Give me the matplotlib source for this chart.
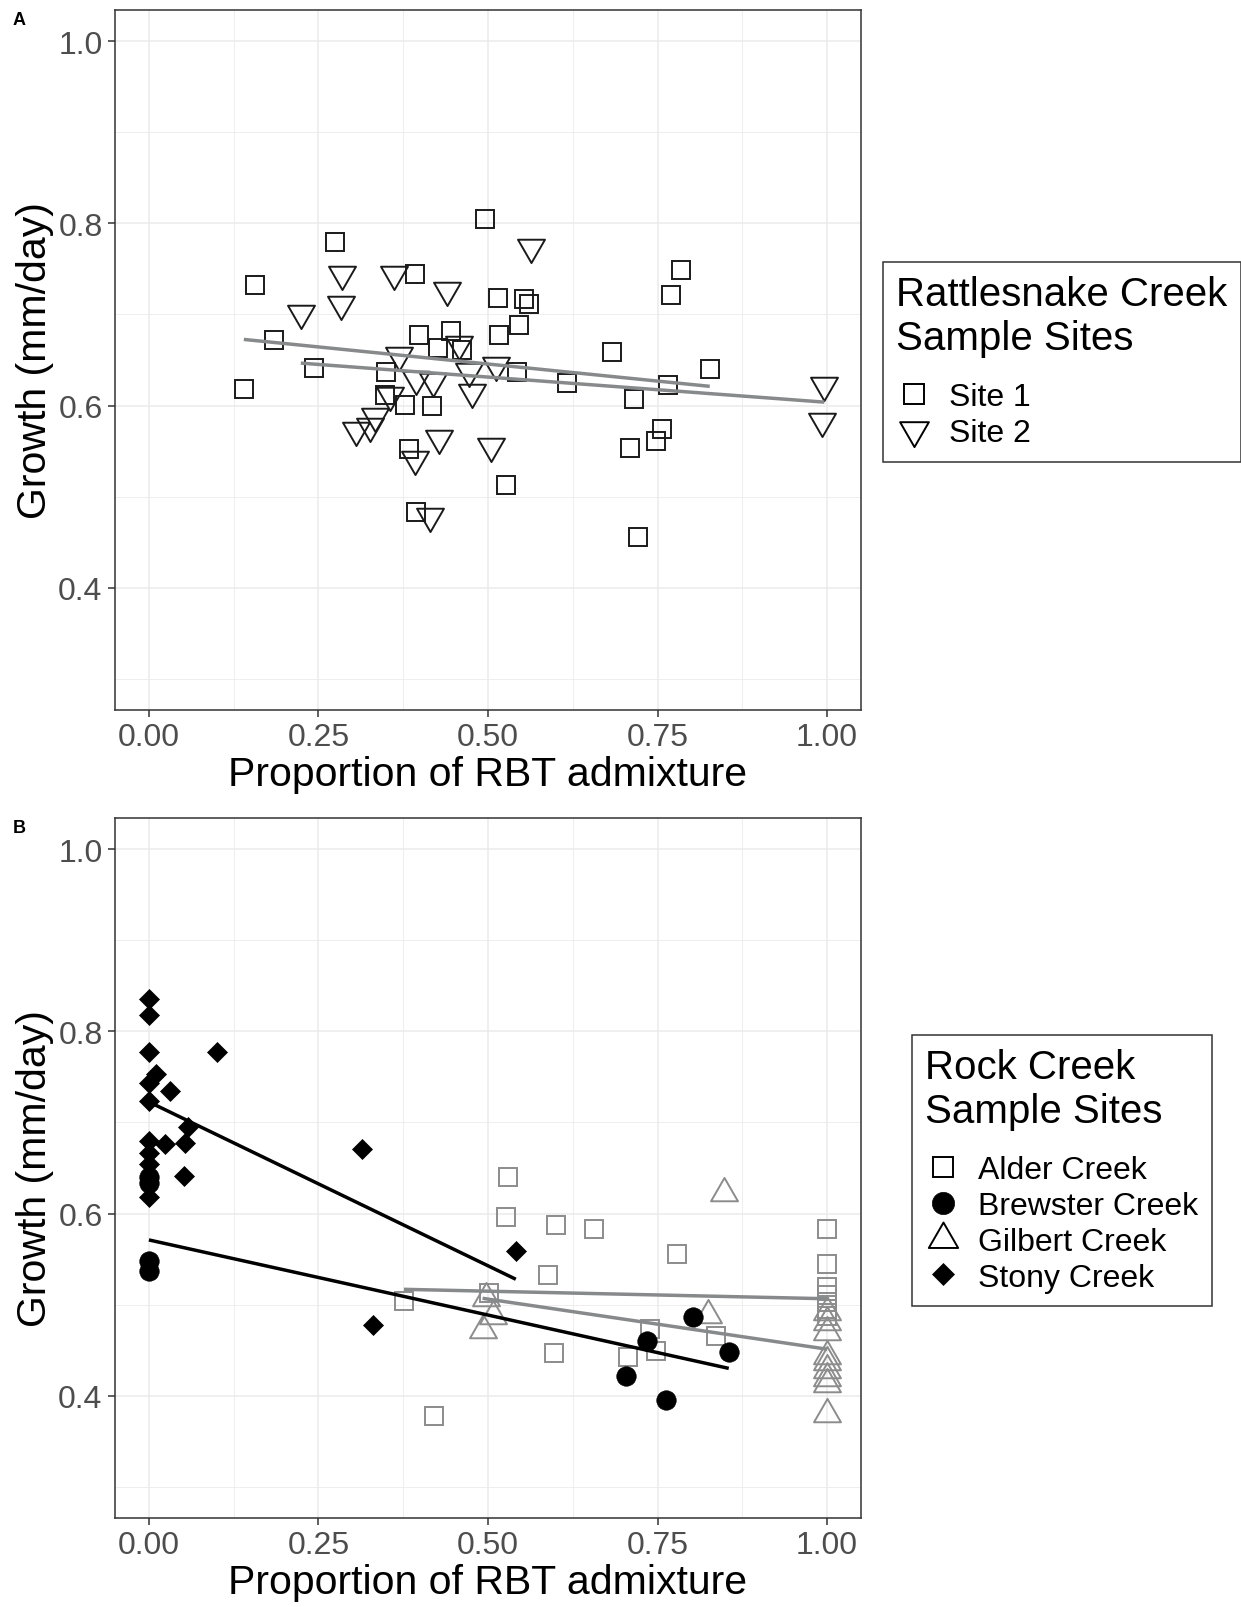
import numpy as np
import matplotlib
matplotlib.use('Agg')
import matplotlib.pyplot as plt
from matplotlib.lines import Line2D
from matplotlib.path import Path
from matplotlib.ticker import MultipleLocator

plt.rcParams['font.family'] = ['Liberation Sans', 'DejaVu Sans']

# ---- Rattlesnake Creek (panel A) ----
site1_x = [0.495, 0.275, 0.156, 0.393, 0.515, 0.553, 0.561, 0.185, 0.244, 0.140,
           0.398, 0.446, 0.426, 0.461, 0.516, 0.545, 0.349, 0.348, 0.377, 0.417,
           0.543, 0.384, 0.527, 0.394, 0.617, 0.683, 0.784, 0.770, 0.827, 0.766,
           0.715, 0.757, 0.748, 0.709, 0.721]
site1_y = [0.805, 0.780, 0.732, 0.744, 0.718, 0.717, 0.712, 0.6725, 0.641, 0.618,
           0.677, 0.682, 0.663, 0.661, 0.678, 0.688, 0.637, 0.612, 0.601, 0.599,
           0.637, 0.552, 0.513, 0.483, 0.625, 0.659, 0.749, 0.721, 0.640, 0.623,
           0.607, 0.574, 0.561, 0.553, 0.456]
site2_x = [0.224, 0.285, 0.283, 0.361, 0.439, 0.564, 0.369, 0.394, 0.419, 0.355,
           0.457, 0.472, 0.476, 0.512, 0.333, 0.326, 0.305, 0.428, 0.505, 0.393,
           0.414, 0.996, 0.993]
site2_y = [0.702, 0.744, 0.711, 0.744, 0.727, 0.774, 0.655, 0.629, 0.627, 0.612,
           0.668, 0.638, 0.615, 0.644, 0.588, 0.577, 0.573, 0.564, 0.556, 0.541,
           0.479, 0.622, 0.583]
# linear fits: intercept, slope
site1_fit = [0.6831, -0.075]
site2_fit = [0.659, -0.0555]

# ---- Rock Creek (panel B) ----
alder_x = [0.529, 0.527, 0.601, 0.656, 0.778, 0.589, 0.376, 0.502, 0.597, 0.421,
           0.739, 0.706, 0.748, 0.836, 1.0, 1.0, 1.0, 1.0, 1.0, 1.0, 1.0]
alder_y = [0.640, 0.596, 0.5875, 0.583, 0.556, 0.533, 0.504, 0.513, 0.4465, 0.378,
           0.473, 0.442, 0.449, 0.466, 0.583, 0.545, 0.519, 0.511, 0.503, 0.495, 0.487]
brewster_x = [0.0, 0.0, 0.0, 0.0, 0.704, 0.734, 0.762, 0.803, 0.855]
brewster_y = [0.640, 0.633, 0.548, 0.537, 0.4215, 0.460, 0.395, 0.486, 0.448]
gilbert_x = [0.848, 0.824, 0.4975, 0.508, 0.492, 1.0, 1.0, 1.0, 1.0, 1.0, 1.0, 1.0, 1.0, 1.0]
gilbert_y = [0.623, 0.489, 0.507, 0.488, 0.472, 0.492, 0.481, 0.470, 0.444, 0.437,
             0.428, 0.419, 0.413, 0.380]
stony_x = [0.0, 0.0, 0.0, 0.101, 0.011, 0.0, 0.031, 0.0, 0.057, 0.053,
           0.0, 0.024, 0.0, 0.0, 0.052, 0.0, 0.314, 0.541, 0.330]
stony_y = [0.8355, 0.818, 0.777, 0.777, 0.753, 0.743, 0.735, 0.724, 0.695, 0.678,
           0.680, 0.676, 0.667, 0.654, 0.641, 0.618, 0.671, 0.559, 0.478]
alder_fit = [0.523, -0.0166]
brewster_fit = [0.571, -0.165]
gilbert_fit = [0.561, -0.110]
stony_fit = [0.7226, -0.360]

xticks = [0.0, 0.25, 0.5, 0.75, 1.0]
xticklabels = ['0.00', '0.25', '0.50', '0.75', '1.00']
yticks = [0.4, 0.6, 0.8, 1.0]
yticklabels = ['0.4', '0.6', '0.8', '1.0']

# R style equilateral triangles centred on the centroid
k1, k2, k3 = 1.3468, 0.7776, 1.5551
tri_down = Path([(-k1, k2), (k1, k2), (0, -k3), (-k1, k2)],
                [Path.MOVETO, Path.LINETO, Path.LINETO, Path.CLOSEPOLY])
tri_up = Path([(-k1, -k2), (k1, -k2), (0, k3), (-k1, -k2)],
              [Path.MOVETO, Path.LINETO, Path.LINETO, Path.CLOSEPOLY])

GREY = '#8c8c8c'
LINE_GREY = '#878a8b'
SQ = 12.6
TRI = 22.4
MEW = 1.4


def fit_line(ax, x, fit, color):
    xs = np.array([min(x), max(x)])
    ax.plot(xs, fit[0] + fit[1] * xs, color=color, lw=2.5, solid_capstyle='butt', zorder=5)


def style_panel(ax):
    ax.set_xlim(-0.05, 1.05)
    ax.set_ylim(0.2656, 1.0344)
    ax.set_xticks(xticks)
    ax.set_xticklabels(xticklabels)
    ax.set_yticks(yticks)
    ax.set_yticklabels(yticklabels)
    ax.xaxis.set_minor_locator(MultipleLocator(0.125))
    ax.yaxis.set_minor_locator(MultipleLocator(0.1))
    ax.grid(True, which='major', color='#ebebeb', lw=1.1, zorder=0)
    ax.grid(True, which='minor', color='#ebebeb', lw=0.6, zorder=0)
    ax.set_axisbelow(True)
    ax.tick_params(which='major', length=5, width=1.1, color='#333333',
                   labelsize=23, labelcolor='#4d4d4d', pad=4)
    ax.tick_params(which='minor', length=0)
    for s in ax.spines.values():
        s.set_color('#333333')
        s.set_linewidth(1.1)
    ax.set_xlabel('Proportion of RBT admixture', fontsize=29.5, labelpad=2)
    ax.set_ylabel('Growth (mm/day)', fontsize=29.5, labelpad=3)


def make_legend(handles, labels, title, x0, y0):
    leg = fig.legend(handles, labels, title=title,
                     loc='upper left', bbox_to_anchor=(x0 / W, 1 - y0 / H),
                     fontsize=23, title_fontsize=29, alignment='left', fancybox=False,
                     framealpha=1, borderpad=0.42, handlelength=1.1, handletextpad=0.55,
                     labelspacing=0.18, borderaxespad=0)
    leg.get_frame().set_edgecolor('#333333')
    leg.get_frame().set_linewidth(1.1)
    # extra room between the two-line title and the keys
    leg._legend_box.sep = 18
    return leg


fig = plt.figure(figsize=(12.41, 16.08), dpi=100)
W, H = 1241.0, 1608.0
axA = fig.add_axes([115 / W, 1 - 711 / H, 746 / W, 700 / H])
axB = fig.add_axes([115 / W, 1 - 1519 / H, 746 / W, 700 / H])

# panel A
axA.plot(site1_x, site1_y, ls='none', marker='s', ms=SQ, mfc='none', mec='#1a1a1a', mew=MEW, zorder=3)
axA.plot(site2_x, site2_y, ls='none', marker=tri_down, ms=TRI, mfc='none', mec='#1a1a1a', mew=MEW, zorder=3)
fit_line(axA, site1_x, site1_fit, LINE_GREY)
fit_line(axA, site2_x, site2_fit, LINE_GREY)
style_panel(axA)

# panel B
axB.plot(alder_x, alder_y, ls='none', marker='s', ms=SQ, mfc='none', mec=GREY, mew=MEW, zorder=3)
axB.plot(gilbert_x, gilbert_y, ls='none', marker=tri_up, ms=TRI, mfc='none', mec=GREY, mew=MEW, zorder=3)
axB.plot(brewster_x, brewster_y, ls='none', marker='o', ms=14, mfc='black', mec='black', mew=0.5, zorder=3)
axB.plot(stony_x, stony_y, ls='none', marker='D', ms=10, mfc='black', mec='black', mew=0.5, zorder=3)
fit_line(axB, alder_x, alder_fit, LINE_GREY)
fit_line(axB, gilbert_x, gilbert_fit, LINE_GREY)
fit_line(axB, brewster_x, brewster_fit, 'black')
fit_line(axB, stony_x, stony_fit, 'black')
style_panel(axB)

fig.text(13 / W, 1 - 12 / H, 'A', fontsize=13, fontweight='bold', ha='left', va='top')
fig.text(13 / W, 1 - 820 / H, 'B', fontsize=13, fontweight='bold', ha='left', va='top')

# legends
hA = [Line2D([], [], ls='none', marker='s', ms=SQ + 1.5, mfc='none', mec='black', mew=MEW),
      Line2D([], [], ls='none', marker=tri_down, ms=TRI + 1.5, mfc='none', mec='black', mew=MEW)]
make_legend(hA, ['Site 1', 'Site 2'], 'Rattlesnake Creek\nSample Sites', 883, 263)

hB = [Line2D([], [], ls='none', marker='s', ms=SQ + 2, mfc='none', mec='black', mew=MEW),
      Line2D([], [], ls='none', marker='o', ms=16, mfc='black', mec='black', mew=0.5),
      Line2D([], [], ls='none', marker=tri_up, ms=TRI + 2, mfc='none', mec='black', mew=MEW),
      Line2D([], [], ls='none', marker='D', ms=11, mfc='black', mec='black', mew=0.5)]
make_legend(hB, ['Alder Creek', 'Brewster Creek', 'Gilbert Creek', 'Stony Creek'],
            'Rock Creek\nSample Sites', 912, 1036)

fig.savefig('out.png', dpi=100)
